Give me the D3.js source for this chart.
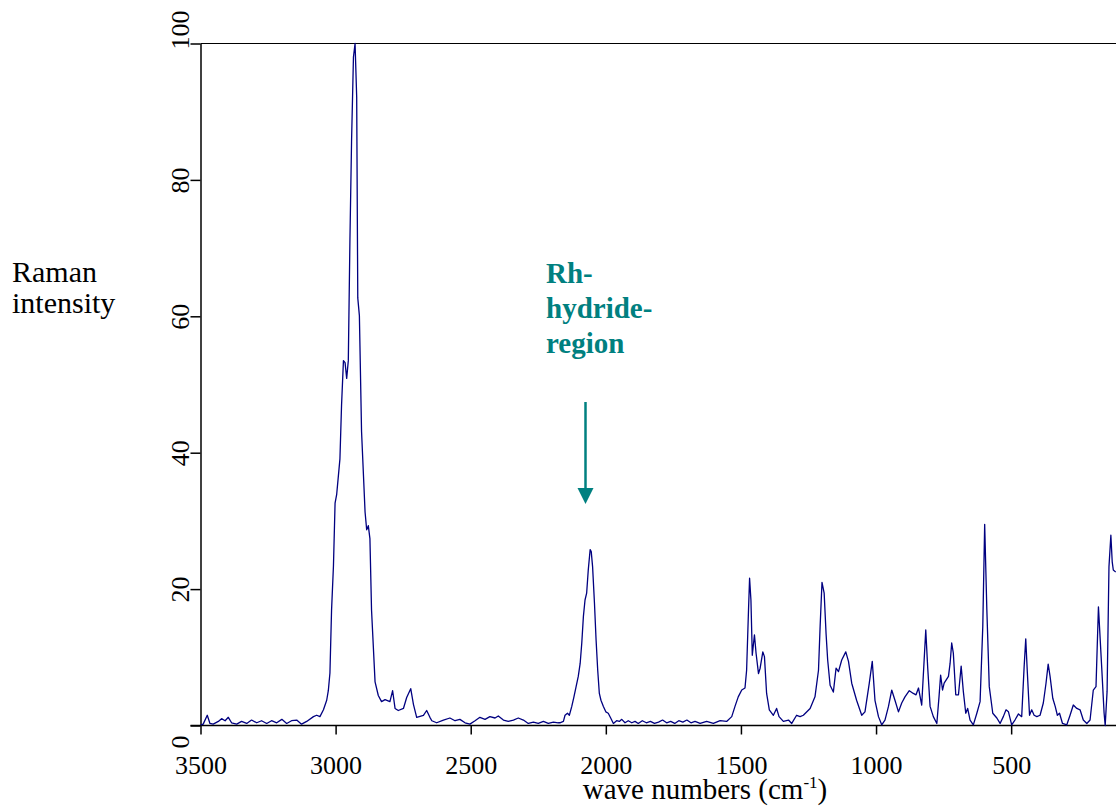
<!DOCTYPE html>
<html>
<head>
<meta charset="utf-8">
<script src="https://cdn.jsdelivr.net/npm/d3@7"></script>
<style>
  body { margin: 0; background: #fff; }
  svg { display: block; font-family: "Liberation Serif", "Times New Roman", serif; }
</style>
</head>
<body>
<svg id="chart" width="1116" height="809"></svg>
<script>
// spectrum (wave number in cm-1, intensity 0-100)
const wave = [
  3499, 3490, 3475, 3465, 3453, 3434, 3422, 3409, 3397, 3385, 3366, 3348, 3329, 3311, 3292, 3274,
  3255, 3237, 3218, 3199, 3181, 3163, 3144, 3126, 3107, 3082, 3070, 3058, 3045, 3033, 3027, 3021,
  3015, 3008, 3002, 2996, 2990, 2984, 2978, 2971, 2965, 2959, 2953, 2947, 2941, 2934, 2928, 2922,
  2918, 2912, 2904, 2891, 2885, 2879, 2873, 2867, 2854, 2842, 2830, 2817, 2799, 2789, 2780, 2768,
  2749, 2737, 2722, 2712, 2700, 2675, 2663, 2651, 2644, 2626, 2601, 2577, 2558, 2540, 2521, 2503,
  2484, 2466, 2447, 2429, 2410, 2398, 2379, 2361, 2342, 2324, 2305, 2287, 2268, 2250, 2231, 2213,
  2194, 2176, 2170, 2157, 2151, 2142, 2135, 2126, 2118, 2110, 2102, 2095, 2089, 2083, 2077, 2071,
  2065, 2058, 2054, 2049, 2042, 2036, 2030, 2024, 2018, 2009, 2000, 1991, 1982, 1972, 1960, 1950,
  1941, 1929, 1917, 1904, 1892, 1880, 1865, 1850, 1835, 1820, 1805, 1790, 1775, 1760, 1745, 1730,
  1715, 1700, 1685, 1670, 1651, 1627, 1602, 1577, 1553, 1534, 1522, 1510, 1497, 1485, 1479, 1472,
  1468, 1463, 1458, 1450, 1444, 1435, 1429, 1419, 1413, 1405, 1395, 1380, 1368, 1359, 1343, 1324,
  1312, 1294, 1281, 1269, 1244, 1226, 1213, 1207, 1200, 1192, 1185, 1179, 1170, 1158, 1148, 1139,
  1127, 1112, 1102, 1090, 1072, 1053, 1041, 1025, 1014, 1004, 991, 979, 967, 954, 942, 930,
  917, 905, 893, 877, 862, 852, 843, 831, 822, 816, 809, 800, 788, 775, 767, 761,
  754, 748, 732, 726, 720, 714, 705, 695, 685, 677, 668, 661, 652, 640, 627, 615,
  605, 598, 590, 581, 568, 553, 541, 529, 519, 510, 498, 486, 473, 461, 452, 446,
  440, 432, 424, 415, 405, 393, 381, 371, 363, 356, 346, 337, 329, 321, 310, 294,
  282, 270, 257, 245, 233, 220, 208, 196, 186, 177, 165, 156, 152, 145, 138, 131,
  126, 122, 113
];
const intensity = [
  0.1, 0.2, 1.5, 0.3, 0.2, 0.6, 1.0, 0.7, 1.2, 0.4, 0.2, 0.6, 0.3, 0.8, 0.4, 0.7,
  0.3, 0.7, 0.4, 0.9, 0.3, 0.7, 0.8, 0.2, 0.6, 1.3, 1.5, 1.3, 2.3, 3.7, 5.1, 7.7,
  16.9, 23.4, 32.6, 33.9, 36.5, 39.1, 47, 53.5, 53.2, 50.9, 53.5, 71.2, 85.6, 98, 100, 92.2,
  62.7, 60.1, 43.1, 31.3, 28.7, 29.3, 27.4, 16.9, 6.4, 4.4, 3.5, 3.8, 3.5, 5.1, 2.5, 2.2,
  2.5, 4.1, 5.4, 3.1, 1.2, 1.5, 2.2, 1.2, 0.7, 0.4, 0.8, 1.1, 0.7, 0.9, 0.4, 0.2,
  0.7, 1.2, 0.9, 1.3, 1.1, 1.4, 0.8, 0.6, 0.8, 1.1, 0.8, 0.3, 0.5, 0.3, 0.6, 0.3,
  0.5, 0.4, 0.4, 0.6, 1.5, 1.8, 1.5, 2.8, 4.2, 5.7, 7.2, 9.1, 12.1, 16, 18.4, 19.4,
  22.8, 25.8, 25.5, 23.3, 17.9, 12.5, 8.1, 4.7, 3.7, 2.8, 2.0, 1.8, 1.1, 0.3, 0.7, 0.6,
  0.9, 0.4, 0.7, 0.4, 0.6, 0.3, 0.7, 0.4, 0.6, 0.3, 0.5, 0.8, 0.4, 0.6, 0.3, 0.7,
  0.5, 0.8, 0.4, 0.6, 0.3, 0.6, 0.3, 0.7, 0.6, 1.3, 2.8, 4.2, 5.2, 5.5, 8.1, 16.9,
  21.6, 18.4, 10.3, 13.3, 10.6, 7.6, 8.4, 10.8, 10.1, 4.7, 2.3, 1.5, 2.5, 1.3, 0.6, 0.8,
  0.3, 1.5, 1.3, 1.5, 2.5, 4.2, 8.1, 14.5, 21, 19.4, 13.5, 9.6, 5.9, 4.9, 8.4, 7.9,
  9.6, 10.8, 9.4, 6.2, 3.7, 1.5, 2.0, 6.2, 9.4, 3.7, 1.3, 0.1, 0.8, 2.8, 5.2, 3.7,
  2.0, 3.3, 4.2, 5.1, 4.7, 4.5, 5.5, 3.0, 9.6, 14.0, 8.6, 2.8, 1.3, 0.3, 4.2, 7.4,
  5.2, 6.2, 7.2, 9.1, 12.1, 10.6, 4.5, 4.5, 8.7, 5.0, 1.8, 2.5, 0.8, 0.1, 1.8, 3.5,
  14.5, 29.5, 17, 5.7, 1.8, 1.1, 0.3, 1.3, 2.3, 2.0, 0.1, 0.8, 1.7, 1.3, 8.6, 12.7,
  7.7, 1.5, 2.3, 1.5, 1.3, 1.5, 3.3, 6.2, 9.0, 7.2, 4.0, 2.8, 1.5, 1.8, 0.3, 0.1,
  1.5, 3.0, 2.5, 2.3, 0.8, 0.3, 0.8, 5.2, 5.7, 17.4, 8.6, 1.8, 0.0, 5.0, 23.3, 27.9,
  24, 22.8, 22.5
];
const xTicks = [3500, 3000, 2500, 2000, 1500, 1000, 500];
const yTicks = [0, 20, 40, 60, 80, 100];
const yTitle = ['Raman', 'intensity'];
const noteLines = ['Rh-', 'hydride-', 'region'];

const svg = d3.select('#chart');
const plotLeft = 200.5, plotRight = 1116, plotTop = 43.5, plotBottom = 725.5;

const x = d3.scaleLinear().domain([3500, 112]).range([plotLeft, plotRight]);
const y = d3.scaleLinear().domain([0, 100]).range([plotBottom, plotTop]);

// frame line along the top
svg.append('line')
  .attr('x1', plotLeft).attr('x2', plotRight)
  .attr('y1', plotTop).attr('y2', plotTop)
  .attr('stroke', '#000').attr('stroke-width', 1.2);

// x axis
const gx = svg.append('g')
  .attr('transform', 'translate(0,' + plotBottom + ')')
  .call(d3.axisBottom(x).tickValues(xTicks).tickSize(9).tickSizeOuter(0).tickFormat(d3.format('d')));
gx.select('.domain').attr('d', 'M' + (plotLeft - 10) + ',0H' + plotRight).attr('stroke-width', 1.5);
gx.selectAll('.tick line').attr('stroke-width', 1.5);
gx.selectAll('.tick text')
  .attr('y', 48.5).attr('dy', 0)
  .style('font-family', '"Liberation Serif", serif').style('font-size', '26px').attr('fill', '#000');

// y axis, labels turned on their side
const gy = svg.append('g')
  .attr('transform', 'translate(' + plotLeft + ',0)')
  .call(d3.axisLeft(y).tickValues(yTicks).tickSize(10).tickSizeOuter(0));
gy.select('.domain').attr('stroke-width', 1.5);
gy.selectAll('.tick line').attr('stroke-width', 1.5);
gy.selectAll('.tick text')
  .attr('text-anchor', 'middle')
  .attr('transform', 'rotate(-90)')
  .attr('x', d => d === 0 ? -16 : (d === 100 ? 14 : 0))
  .attr('y', -12).attr('dy', 0)
  .style('font-family', '"Liberation Serif", serif').style('font-size', '26px').attr('fill', '#000');

// spectrum
const line = d3.line()
  .x((d, i) => x(wave[i]))
  .y(d => y(d));
svg.append('path')
  .datum(intensity)
  .attr('d', line)
  .attr('fill', 'none')
  .attr('stroke', '#000080')
  .attr('stroke-width', 1.3)
  .attr('stroke-linejoin', 'round');

// axis titles
const xt = svg.append('text')
  .attr('x', 705).attr('y', 799)
  .attr('text-anchor', 'middle')
  .style('font-size', '29px');
xt.append('tspan').text('wave numbers (cm');
xt.append('tspan').attr('dy', -11).style('font-size', '17px').text('-1');
xt.append('tspan').attr('dy', 11).text(')');

svg.append('g').selectAll('text')
  .data(yTitle)
  .enter().append('text')
  .attr('x', 12)
  .attr('y', (d, i) => 282 + i * 31)
  .style('font-size', '30px')
  .text(d => d);

// annotation with arrow
const teal = '#008080';
svg.append('g').selectAll('text')
  .data(noteLines)
  .enter().append('text')
  .attr('x', 546)
  .attr('y', (d, i) => 283 + i * 35)
  .attr('fill', teal)
  .style('font-size', '29px')
  .style('font-weight', 'bold')
  .text(d => d);

svg.append('line')
  .attr('x1', 585.5).attr('x2', 585.5)
  .attr('y1', 402).attr('y2', 490)
  .attr('stroke', teal).attr('stroke-width', 2.5);
svg.append('path')
  .attr('d', 'M577.5,488L593.5,488L585.5,504Z')
  .attr('fill', teal);
</script>
</body>
</html>
